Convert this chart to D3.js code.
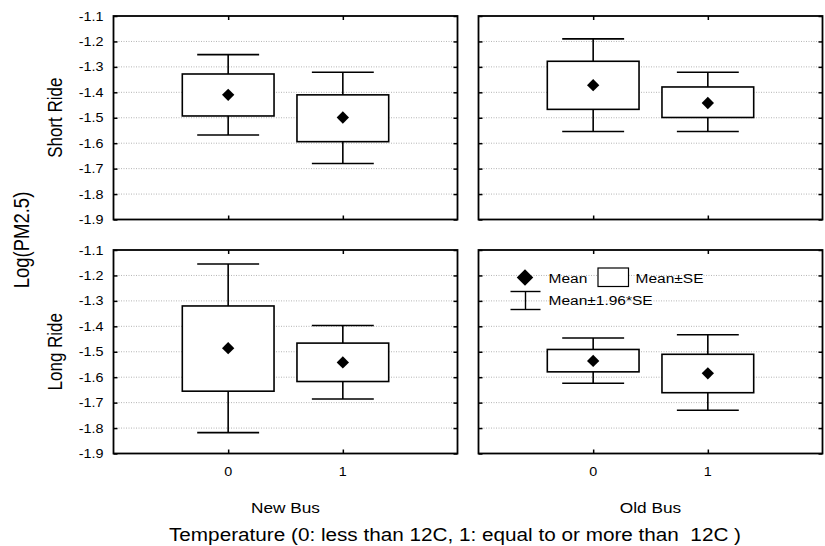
<!DOCTYPE html>
<html>
<head>
<meta charset="utf-8">
<script src="https://cdnjs.cloudflare.com/ajax/libs/d3/7.8.5/d3.min.js"></script>
<style>
  body { margin: 0; background: #fff; }
  svg { display: block; font-family: "Liberation Sans", Arial, sans-serif; }
</style>
</head>
<body>
<svg width="825" height="546"></svg>
<script>
// data
var rides = ["Short Ride", "Long Ride"];
var buses = ["New Bus", "Old Bus"];
var temps = [0, 1];
var yTicks = [-1.1, -1.2, -1.3, -1.4, -1.5, -1.6, -1.7, -1.8, -1.9];

// [ride][bus][temp]
var means  = [[[-1.410, -1.499], [-1.372, -1.442]],
              [[-1.486, -1.542], [-1.536, -1.585]]];
var seHigh = [[[-1.328, -1.410], [-1.278, -1.379]],
              [[-1.320, -1.466], [-1.491, -1.510]]];
var seLow  = [[[-1.493, -1.594], [-1.467, -1.499]],
              [[-1.655, -1.617], [-1.579, -1.661]]];
var ciHigh = [[[-1.252, -1.321], [-1.190, -1.321]],
              [[-1.155, -1.397], [-1.446, -1.433]]];
var ciLow  = [[[-1.568, -1.680], [-1.554, -1.554]],
              [[-1.818, -1.686], [-1.624, -1.730]]];

var svg = d3.select("svg");
var padLeft = 113.5, padTop = 16, colW = 344, gap = 21, rowH = 203.5, rowGap = 30.5;
var sx = 1.15; // the original text is a bit wide

var x = d3.scaleLinear().domain([-1, 2]).range([0, colW]);
var y = d3.scaleLinear().domain([-1.9, -1.1]).range([rowH, 0]);

function label(g, px, py, str, size, anchor, rot) {
  return g.append("text")
    .attr("transform", "translate(" + px + "," + py + ") scale(" + sx + ",1)" + (rot ? " rotate(-90)" : ""))
    .attr("text-anchor", anchor)
    .style("font-size", size + "px")
    .attr("fill", "#000")
    .text(str);
}

var diamond = d3.symbol().type(d3.symbolSquare);

function noDomain(a) { a.select(".domain").remove(); a.selectAll("line").attr("stroke", "#000").attr("stroke-width", 1.5); }

rides.forEach(function(ride, r) {
  buses.forEach(function(bus, c) {
    var g = svg.append("g")
      .attr("transform", "translate(" + (padLeft + c * (colW + gap)) + "," + (padTop + r * (rowH + rowGap)) + ")");

    g.selectAll(".grid")
      .data(yTicks.slice(1, -1))
      .enter().append("line")
      .attr("x1", 0).attr("x2", colW)
      .attr("y1", function(d) { return y(d); })
      .attr("y2", function(d) { return y(d); })
      .attr("stroke", "#b4b4b4")
      .attr("stroke-dasharray", "1,1.5");

    // inward ticks on all four sides
    g.append("g").call(d3.axisRight(y).tickValues(yTicks).tickSize(4).tickFormat("")).call(noDomain);
    g.append("g").attr("transform", "translate(" + colW + ",0)")
      .call(d3.axisLeft(y).tickValues(yTicks).tickSize(4).tickFormat("")).call(noDomain);
    g.append("g").call(d3.axisBottom(x).tickValues(temps).tickSize(4).tickFormat("")).call(noDomain);
    g.append("g").attr("transform", "translate(0," + rowH + ")")
      .call(d3.axisTop(x).tickValues(temps).tickSize(4).tickFormat("")).call(noDomain);

    g.append("rect")
      .attr("width", colW).attr("height", rowH)
      .attr("fill", "none").attr("stroke", "#000").attr("stroke-width", 1.8);

    var rows = temps.map(function(t) {
      return { t: t, m: means[r][c][t], bh: seHigh[r][c][t], bl: seLow[r][c][t],
               ch: ciHigh[r][c][t], cl: ciLow[r][c][t] };
    });

    var item = g.selectAll(".item").data(rows).enter().append("g");

    item.append("line")
      .attr("x1", function(d) { return x(d.t); }).attr("x2", function(d) { return x(d.t); })
      .attr("y1", function(d) { return y(d.ch); }).attr("y2", function(d) { return y(d.cl); })
      .attr("stroke", "#000").attr("stroke-width", 1.6);

    ["ch", "cl"].forEach(function(k) {
      item.append("line")
        .attr("x1", function(d) { return x(d.t - 0.27); }).attr("x2", function(d) { return x(d.t + 0.27); })
        .attr("y1", function(d) { return y(d[k]); }).attr("y2", function(d) { return y(d[k]); })
        .attr("stroke", "#000").attr("stroke-width", 1.6);
    });

    item.append("rect")
      .attr("x", function(d) { return x(d.t - 0.4); })
      .attr("width", function(d) { return x(d.t + 0.4) - x(d.t - 0.4); })
      .attr("y", function(d) { return y(d.bh); })
      .attr("height", function(d) { return y(d.bl) - y(d.bh); })
      .attr("fill", "#fff").attr("stroke", "#000").attr("stroke-width", 1.6);

    item.append("path")
      .attr("d", diamond.size(76))
      .attr("transform", function(d) { return "translate(" + x(d.t) + "," + y(d.m) + ") rotate(45)"; })
      .attr("fill", "#000");

    if (c === 0) {
      yTicks.forEach(function(v) {
        label(g, -10, y(v), v.toFixed(1), 12.5, "end").attr("dy", "0.36em");
      });
      label(g, -52, rowH / 2, ride, 17, "middle", true);
    }
    if (r === 1) {
      temps.forEach(function(t) {
        label(g, x(t), rowH + 22, String(t), 12.5, "middle");
      });
      label(g, colW / 2, rowH + 59.5, bus, 15, "middle");
    }

    if (r === 1 && c === 1) {
      var lg = g.append("g");
      lg.append("path").attr("d", diamond.size(136))
        .attr("transform", "translate(46.5,27.5) rotate(45)").attr("fill", "#000");
      label(lg, 70, 33, "Mean", 13.5, "start");
      lg.append("rect").attr("x", 119.5).attr("y", 18).attr("width", 30.5).attr("height", 18.5)
        .attr("fill", "#fff").attr("stroke", "#000").attr("stroke-width", 1.2);
      label(lg, 157, 33, "Mean\u00b1SE", 13.5, "start");
      lg.append("line").attr("x1", 47).attr("x2", 47).attr("y1", 41.5).attr("y2", 59.5)
        .attr("stroke", "#000").attr("stroke-width", 1.4);
      [41.5, 59.5].forEach(function(yy) {
        lg.append("line").attr("x1", 32).attr("x2", 62).attr("y1", yy).attr("y2", yy)
          .attr("stroke", "#000").attr("stroke-width", 1.4);
      });
      label(lg, 70, 54.5, "Mean\u00b11.96*SE", 13.5, "start");
    }
  });
});

// outer axis titles
label(svg, 28.5, 240, "Log(PM2.5)", 18.5, "middle", true);

svg.append("text")
  .attr("x", 169).attr("y", 540.5)
  .attr("textLength", 572).attr("lengthAdjust", "spacingAndGlyphs")
  .style("font-size", "17.5px").style("white-space", "pre")
  .attr("fill", "#000")
  .text("Temperature (0: less than 12C, 1: equal to or more than  12C )");
</script>
</body>
</html>
